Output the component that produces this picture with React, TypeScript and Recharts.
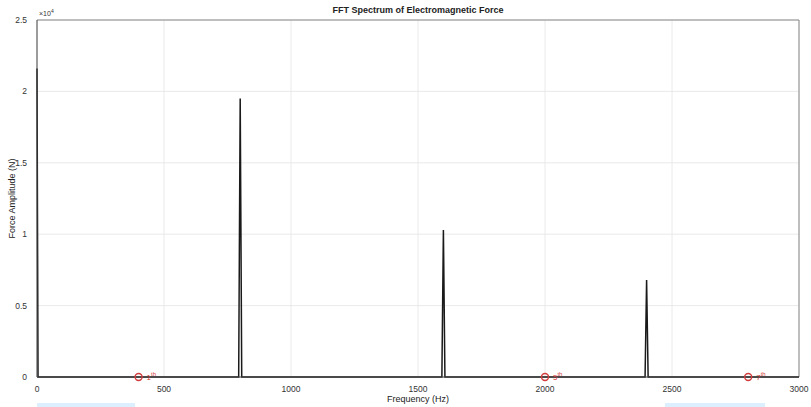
import {
  ComposedChart, Line, XAxis, YAxis, CartesianGrid, ReferenceDot, ReferenceLine, Label,
} from "recharts";

// spectrum samples, amplitude in units of 1e4 N
const freqs = [0, 4, 794, 800, 806, 1594, 1600, 1606, 2394, 2400, 2406, 3000];
const amps = [2.16, 0, 0, 1.95, 0, 0, 1.03, 0, 0, 0.68, 0, 0];

const harmonicFreqs = [400, 2000, 2800];
const harmonicOrders = ["1", "5", "7"];

const xTicks = [0, 500, 1000, 1500, 2000, 2500, 3000];
const yTicks = [0, 0.5, 1, 1.5, 2, 2.5];

const data = freqs.map((f, i) => ({ f, a: amps[i] }));

const font = "Liberation Sans, Arial, sans-serif";
const red = "#d23c3c";

function HarmonicLabel({ viewBox, order }: any) {
  const cx = viewBox.x + viewBox.width / 2;
  const cy = viewBox.y + viewBox.height / 2;
  return (
    <text x={cx + 8} y={cy + 3} fill={red} fontSize={8} fontFamily={font}>
      {order}
      <tspan dy={-4} fontSize={6}>th</tspan>
    </text>
  );
}

export default function App() {
  return (
    <div style={{ position: "absolute", left: 0, top: 0, width: 811, height: 407, background: "#fff" }}>
      <ComposedChart width={811} height={407} data={data} margin={{ top: 20, right: 12, bottom: 0, left: 0 }}>
        <CartesianGrid stroke="#e4e4e4" strokeWidth={0.8} />
        <XAxis
          dataKey="f" type="number" domain={[0, 3000]} ticks={xTicks} height={30}
          stroke="#444" tickLine={false} interval={0}
          tick={{ fontSize: 8.5, fill: "#333", fontFamily: font }} tickMargin={3}
        >
          <Label value="Frequency (Hz)" position="insideBottom" offset={5} fill="#222" fontSize={9} fontFamily={font} />
        </XAxis>
        <YAxis
          type="number" domain={[0, 2.5]} ticks={yTicks} width={37}
          stroke="#444" tickLine={false} interval={0}
          tick={{ fontSize: 8.5, fill: "#333", fontFamily: font }} tickMargin={4}
        >
          <Label value="Force Amplitude (N)" angle={-90} position="insideLeft" offset={12} fill="#222" fontSize={9} fontFamily={font} style={{ textAnchor: "middle" }} />
        </YAxis>
        <ReferenceLine y={2.5} stroke="#888" strokeWidth={1} />
        <ReferenceLine x={3000} stroke="#888" strokeWidth={1} />
        <Line type="linear" dataKey="a" stroke="#1a1a1a" strokeWidth={1.5} dot={false} isAnimationActive={false} />
        {harmonicFreqs.map((f, i) => (
          <ReferenceDot
            key={f} x={f} y={0} r={3.5} fill="none" stroke={red} strokeWidth={1.4}
            label={<HarmonicLabel order={harmonicOrders[i]} />}
          />
        ))}
        <text x={418} y={13} textAnchor="middle" fontSize={9} fontWeight="bold" fill="#222" fontFamily={font}>
          FFT Spectrum of Electromagnetic Force
        </text>
        <text x={39} y={16} fontSize={7} fill="#333" fontFamily={font}>
          ×10<tspan dy={-3} fontSize={5}>4</tspan>
        </text>
      </ComposedChart>
      <div style={{ position: "absolute", left: 37, top: 403, width: 98, height: 4, background: "#dcefff" }} />
      <div style={{ position: "absolute", left: 665, top: 403, width: 100, height: 4, background: "#dcefff" }} />
    </div>
  );
}
